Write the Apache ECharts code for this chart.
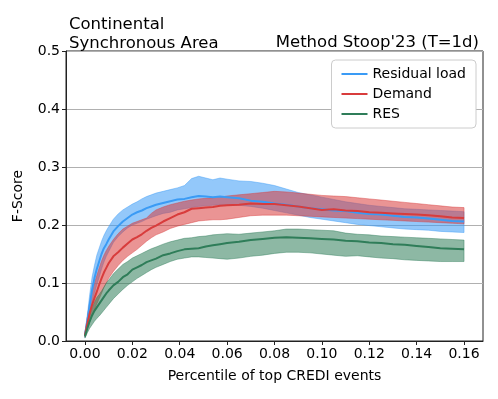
<!DOCTYPE html>
<html>
<head>
<meta charset="utf-8">
<script src="https://cdn.jsdelivr.net/npm/echarts@6/dist/echarts.min.js"></script>
<style>
  html, body { margin: 0; padding: 0; background: #fff; }
  #chart { width: 498px; height: 399px; }
</style>
</head>
<body>
<div id="chart"></div>
<script>
// percentile of top CREDI events
const pct = [0, 0.001, 0.002, 0.003, 0.004, 0.005, 0.006, 0.007, 0.008, 0.009, 0.010,
  0.012, 0.014, 0.016, 0.018, 0.020, 0.022, 0.024, 0.026, 0.028, 0.030,
  0.033, 0.036, 0.039, 0.042, 0.045, 0.048, 0.051, 0.054, 0.057, 0.060,
  0.065, 0.070, 0.075, 0.080, 0.085, 0.090, 0.095, 0.100, 0.105, 0.110,
  0.115, 0.120, 0.125, 0.130, 0.135, 0.140, 0.145, 0.150, 0.155, 0.160];

// Residual load
const residMean = [0.010, 0.035, 0.062, 0.088, 0.108, 0.124, 0.137, 0.150, 0.160, 0.167, 0.175,
  0.189, 0.198, 0.206, 0.212, 0.218, 0.222, 0.225, 0.229, 0.232, 0.235,
  0.238, 0.241, 0.244, 0.245, 0.248, 0.250, 0.249, 0.248, 0.249, 0.248,
  0.246, 0.242, 0.240, 0.237, 0.235, 0.232, 0.229, 0.227, 0.225, 0.224,
  0.221, 0.219, 0.218, 0.216, 0.214, 0.213, 0.211, 0.209, 0.207, 0.206];
const residHigh = [0.014, 0.045, 0.080, 0.110, 0.130, 0.148, 0.160, 0.172, 0.182, 0.190, 0.197,
  0.210, 0.219, 0.226, 0.231, 0.236, 0.240, 0.245, 0.249, 0.252, 0.255,
  0.258, 0.261, 0.264, 0.268, 0.280, 0.284, 0.281, 0.278, 0.281, 0.279,
  0.276, 0.275, 0.272, 0.268, 0.262, 0.256, 0.252, 0.248, 0.244, 0.240,
  0.237, 0.234, 0.232, 0.230, 0.228, 0.227, 0.226, 0.225, 0.224, 0.223];
const residLow = [0.006, 0.025, 0.045, 0.065, 0.082, 0.097, 0.110, 0.124, 0.136, 0.146, 0.154,
  0.170, 0.180, 0.188, 0.195, 0.200, 0.203, 0.206, 0.210, 0.213, 0.216,
  0.220, 0.222, 0.226, 0.228, 0.230, 0.232, 0.233, 0.234, 0.235, 0.235,
  0.234, 0.232, 0.229, 0.225, 0.221, 0.217, 0.213, 0.210, 0.207, 0.204,
  0.201, 0.199, 0.197, 0.195, 0.193, 0.192, 0.191, 0.189, 0.188, 0.187];

// Demand
const demandMean = [0.010, 0.030, 0.048, 0.062, 0.074, 0.085, 0.097, 0.108, 0.118, 0.126, 0.134,
  0.146, 0.153, 0.161, 0.168, 0.175, 0.179, 0.184, 0.190, 0.195, 0.199,
  0.206, 0.212, 0.218, 0.222, 0.228, 0.229, 0.230, 0.231, 0.233, 0.234,
  0.235, 0.237, 0.236, 0.236, 0.234, 0.232, 0.229, 0.226, 0.227, 0.225,
  0.224, 0.222, 0.221, 0.220, 0.219, 0.218, 0.217, 0.215, 0.213, 0.212];
const demandHigh = [0.013, 0.040, 0.065, 0.085, 0.100, 0.113, 0.126, 0.138, 0.148, 0.156, 0.163,
  0.175, 0.185, 0.193, 0.198, 0.203, 0.206, 0.209, 0.212, 0.220, 0.226,
  0.231, 0.235, 0.238, 0.241, 0.243, 0.245, 0.246, 0.247, 0.248, 0.250,
  0.252, 0.254, 0.256, 0.258, 0.257, 0.255, 0.253, 0.251, 0.250, 0.249,
  0.247, 0.245, 0.243, 0.241, 0.239, 0.237, 0.235, 0.233, 0.231, 0.230];
const demandLow = [0.007, 0.020, 0.033, 0.044, 0.054, 0.064, 0.073, 0.082, 0.092, 0.100, 0.108,
  0.120, 0.130, 0.139, 0.146, 0.152, 0.158, 0.165, 0.172, 0.178, 0.183,
  0.188, 0.194, 0.198, 0.201, 0.204, 0.207, 0.208, 0.209, 0.209, 0.210,
  0.213, 0.216, 0.217, 0.217, 0.217, 0.216, 0.215, 0.214, 0.213, 0.212,
  0.211, 0.210, 0.209, 0.208, 0.207, 0.206, 0.205, 0.204, 0.203, 0.202];

// RES
const resMean = [0.008, 0.022, 0.034, 0.044, 0.052, 0.058, 0.064, 0.070, 0.076, 0.082, 0.087,
  0.096, 0.102, 0.110, 0.115, 0.123, 0.127, 0.131, 0.136, 0.139, 0.142,
  0.148, 0.151, 0.155, 0.158, 0.159, 0.160, 0.163, 0.165, 0.167, 0.169,
  0.171, 0.174, 0.176, 0.178, 0.179, 0.178, 0.177, 0.176, 0.175, 0.173,
  0.172, 0.170, 0.169, 0.167, 0.166, 0.164, 0.162, 0.160, 0.159, 0.158];
const resHigh = [0.012, 0.030, 0.045, 0.057, 0.067, 0.075, 0.080, 0.086, 0.093, 0.100, 0.105,
  0.116, 0.124, 0.132, 0.137, 0.143, 0.147, 0.151, 0.155, 0.159, 0.162,
  0.167, 0.171, 0.174, 0.177, 0.178, 0.180, 0.181, 0.183, 0.184, 0.185,
  0.184, 0.186, 0.188, 0.190, 0.193, 0.193, 0.192, 0.191, 0.190, 0.186,
  0.184, 0.183, 0.181, 0.180, 0.179, 0.178, 0.177, 0.176, 0.175, 0.174];
const resLow = [0.005, 0.014, 0.022, 0.028, 0.034, 0.039, 0.043, 0.048, 0.053, 0.058, 0.063,
  0.073, 0.081, 0.089, 0.096, 0.102, 0.108, 0.113, 0.118, 0.123, 0.127,
  0.132, 0.137, 0.141, 0.143, 0.145, 0.145, 0.144, 0.143, 0.142, 0.141,
  0.143, 0.146, 0.148, 0.151, 0.153, 0.153, 0.152, 0.150, 0.148, 0.146,
  0.147, 0.145, 0.143, 0.142, 0.140, 0.139, 0.138, 0.137, 0.137, 0.137];

const xTicks = [0, 0.02, 0.04, 0.06, 0.08, 0.10, 0.12, 0.14, 0.16];
const yTicks = [0, 0.1, 0.2, 0.3, 0.4, 0.5];

const names = ['Residual load', 'Demand', 'RES'];
const colors = ['#3a9bf5', '#d83c3c', '#2f7d59'];
const means = [residMean, demandMean, resMean];
const highs = [residHigh, demandHigh, resHigh];
const lows = [residLow, demandLow, resLow];

const series = [];
// min-max bands, drawn as polygons through the axis scales
names.forEach((name, k) => {
  series.push({
    name: name + ' band',
    type: 'custom',
    silent: true,
    z: 1,
    data: [[pct[0], lows[k][0]]],
    renderItem: (params, api) => {
      const top = pct.map((x, i) => api.coord([x, highs[k][i]]));
      const bot = pct.map((x, i) => api.coord([x, lows[k][i]])).reverse();
      return {
        type: 'polygon',
        shape: { points: top.concat(bot) },
        style: { fill: colors[k], opacity: 0.55, stroke: colors[k], lineWidth: 0.8 }
      };
    }
  });
});
// mean lines on top
names.forEach((name, k) => {
  series.push({
    name: name,
    type: 'line',
    data: pct.map((x, i) => [x, means[k][i]]),
    symbol: 'none',
    lineStyle: { width: 2, color: colors[k] },
    itemStyle: { color: colors[k] },
    z: 3
  });
});

const chart = echarts.init(document.getElementById('chart'));
chart.setOption({
  animation: false,
  textStyle: { fontFamily: 'DejaVu Sans' },
  title: [
    {
      text: 'Continental\nSynchronous Area',
      left: 64, top: 10,
      textStyle: { fontSize: 16.5, fontWeight: 'normal', color: '#000', lineHeight: 19, fontFamily: 'DejaVu Sans' }
    },
    {
      text: "Method Stoop'23 (T=1d)",
      right: 14, top: 29,
      textStyle: { fontSize: 16.5, fontWeight: 'normal', color: '#000', fontFamily: 'DejaVu Sans' }
    }
  ],
  legend: {
    data: names,
    orient: 'vertical',
    right: 22, top: 60,
    backgroundColor: '#fff',
    borderColor: '#cccccc',
    borderWidth: 1,
    borderRadius: 4,
    padding: [7, 10, 7, 10],
    itemGap: 6,
    itemWidth: 26,
    itemHeight: 2,
    icon: 'rect',
    textStyle: { fontSize: 14, color: '#000', fontFamily: 'DejaVu Sans' }
  },
  grid: {
    left: 66, right: 15, top: 51, bottom: 58,
    show: true,
    borderColor: '#222',
    borderWidth: 1
  },
  xAxis: {
    type: 'value',
    min: -0.008,
    max: 0.168,
    name: 'Percentile of top CREDI events',
    nameLocation: 'middle',
    nameGap: 28,
    nameTextStyle: { fontSize: 14, color: '#000' },
    axisLine: { onZero: false, lineStyle: { color: '#222' } },
    axisTick: { show: true, length: 4, customValues: xTicks, lineStyle: { color: '#222' } },
    axisLabel: {
      customValues: xTicks,
      formatter: (v) => v.toFixed(2),
      fontSize: 14, color: '#000', margin: 6
    },
    splitLine: { show: false }
  },
  yAxis: {
    type: 'value',
    min: yTicks[0],
    max: yTicks[yTicks.length - 1],
    interval: 0.1,
    name: 'F-Score',
    nameLocation: 'middle',
    nameGap: 41,
    nameTextStyle: { fontSize: 14, color: '#000' },
    axisLine: { show: true, onZero: false, lineStyle: { color: '#222' } },
    axisTick: { show: true, length: 4, lineStyle: { color: '#222' } },
    axisLabel: { formatter: (v) => v.toFixed(1), fontSize: 14, color: '#000', margin: 6 },
    splitLine: { show: true, lineStyle: { color: '#b0b0b0', width: 1 } }
  },
  series: series
});
</script>
</body>
</html>
